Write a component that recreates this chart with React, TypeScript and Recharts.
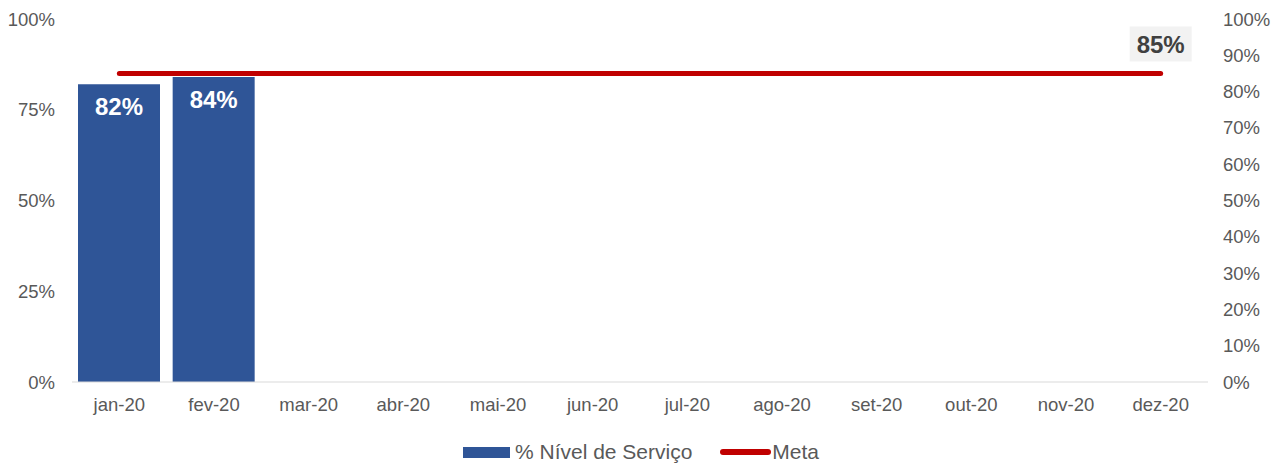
import {
  Bar,
  ComposedChart,
  LabelList,
  Legend,
  Line,
  XAxis,
  YAxis,
} from "recharts";

const months = [
  "jan-20",
  "fev-20",
  "mar-20",
  "abr-20",
  "mai-20",
  "jun-20",
  "jul-20",
  "ago-20",
  "set-20",
  "out-20",
  "nov-20",
  "dez-20",
];
const serviceLevel = [82, 84, null, null, null, null, null, null, null, null, null, null];
const meta = [85, 85, 85, 85, 85, 85, 85, 85, 85, 85, 85, 85];
const leftTicks = [0, 25, 50, 75, 100];
const rightTicks = [0, 10, 20, 30, 40, 50, 60, 70, 80, 90, 100];

const data = months.map((month, i) => ({
  month,
  nivel: serviceLevel[i],
  meta: meta[i],
}));

const FONT = "'Liberation Sans', Arial, sans-serif";
const axisTick = { fill: "#595959", fontSize: 18.5, fontFamily: FONT };

const BarLabel = (props: any) => {
  const { x, y, width, value } = props;
  if (value == null) return null;
  return (
    <text
      x={x + width / 2}
      y={y + 22}
      textAnchor="middle"
      dominantBaseline="central"
      fill="#ffffff"
      fontSize={24}
      fontWeight="bold"
      fontFamily={FONT}
    >
      {value}%
    </text>
  );
};

const MetaLabel = (props: any) => {
  const { x, y, value, index } = props;
  if (index !== months.length - 1) return null;
  return (
    <g>
      <rect x={x - 31} y={y - 47} width={62} height={35} fill="#F2F2F2" />
      <text
        x={x}
        y={y - 29}
        textAnchor="middle"
        dominantBaseline="central"
        fill="#404040"
        fontSize={24}
        fontWeight="bold"
        fontFamily={FONT}
      >
        {value}%
      </text>
    </g>
  );
};

const LegendContent = () => (
  <div
    style={{
      height: 43,
      display: "flex",
      justifyContent: "center",
      alignItems: "flex-end",
      paddingBottom: 1,
      boxSizing: "border-box",
      fontFamily: FONT,
      fontSize: 21,
      color: "#595959",
    }}
  >
    <span style={{ display: "flex", alignItems: "center", marginRight: 28 }}>
      <span
        style={{
          display: "inline-block",
          width: 47,
          height: 11,
          background: "#2F5597",
          marginRight: 5,
        }}
      />
      % Nível de Serviço
    </span>
    <span style={{ display: "flex", alignItems: "center" }}>
      <span
        style={{
          display: "inline-block",
          width: 51,
          height: 6,
          borderRadius: 3,
          background: "#C00000",
          marginRight: 1,
        }}
      />
      Meta
    </span>
  </div>
);

export default function App() {
  return (
    <div style={{ position: "absolute", left: 0, top: 0, background: "#fff" }}>
      <ComposedChart
        width={1282}
        height={465}
        data={data}
        margin={{ top: 19, right: 0, bottom: 0, left: 0 }}
      >
        <XAxis
          dataKey="month"
          axisLine={{ stroke: "#D9D9D9" }}
          tickLine={false}
          tickSize={0}
          tickMargin={16}
          height={40}
          tick={axisTick}
          interval={0}
        />
        <YAxis
          yAxisId="left"
          domain={[0, 100]}
          ticks={leftTicks}
          tickFormatter={(v) => `${v}%`}
          axisLine={false}
          tickLine={false}
          tickSize={0}
          tickMargin={17}
          width={72}
          tick={axisTick}
        />
        <YAxis
          yAxisId="right"
          orientation="right"
          domain={[0, 100]}
          ticks={rightTicks}
          tickFormatter={(v) => `${v}%`}
          axisLine={false}
          tickLine={false}
          tickSize={0}
          tickMargin={15}
          width={74}
          tick={axisTick}
        />
        <Legend verticalAlign="bottom" content={<LegendContent />} />
        <Bar
          yAxisId="left"
          dataKey="nivel"
          fill="#2F5597"
          barSize={82}
          isAnimationActive={false}
        >
          <LabelList dataKey="nivel" content={<BarLabel />} />
        </Bar>
        <Line
          yAxisId="right"
          dataKey="meta"
          stroke="none"
          dot={false}
          activeDot={false}
          legendType="none"
          isAnimationActive={false}
        />
        <Line
          yAxisId="left"
          dataKey="meta"
          stroke="#C00000"
          strokeWidth={5}
          strokeLinecap="round"
          dot={false}
          activeDot={false}
          isAnimationActive={false}
        >
          <LabelList dataKey="meta" content={<MetaLabel />} />
        </Line>
      </ComposedChart>
    </div>
  );
}
